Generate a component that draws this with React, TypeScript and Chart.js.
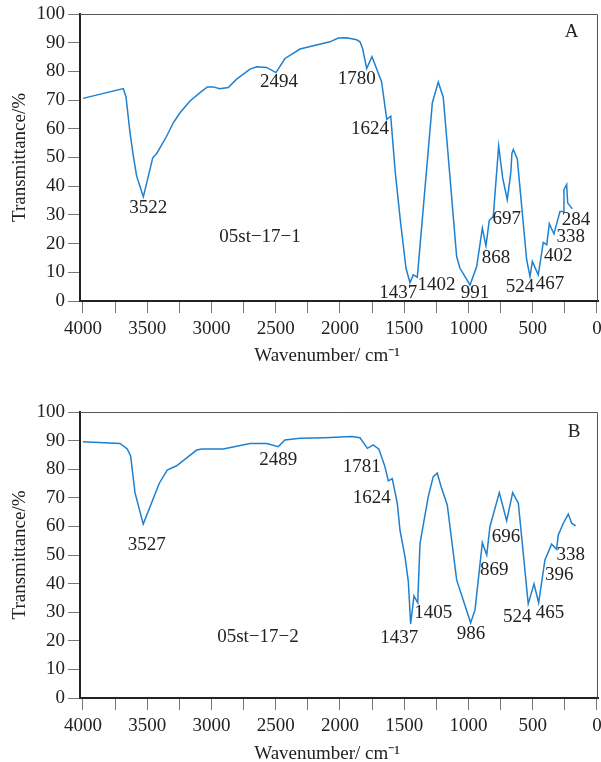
import React, { useEffect, useRef } from 'react';
import { Chart, registerables } from 'chart.js';

Chart.register(...registerables);

const FONT = "'Liberation Serif', 'Times New Roman', serif";
const LINE_COLOR = '#1f80cf';
const TEXT_COLOR = '#222222';

// ---- Spectrum A (05st-17-1) ----
const wavenumbersA = [
  4000, 3686, 3665, 3634, 3608, 3582, 3530, 3457, 3426, 3349, 3297, 3245, 3167, 3089, 3032, 2986,
  2936, 2869, 2804, 2700, 2648, 2570, 2498, 2428, 2311, 2078, 2013, 1948, 1870, 1844, 1823, 1792,
  1751, 1714, 1676, 1636, 1605, 1570, 1530, 1486, 1455, 1430, 1398, 1281, 1235, 1196, 1092, 1066,
  988, 936, 892, 864, 838, 807, 765, 734, 698, 670, 662, 651, 620, 547, 521, 503, 457, 418, 391,
  371, 335, 288, 262, 257, 236, 228, 192,
];
const transmittanceA = [
  70.6, 74.0, 71.1, 58.7, 50.5, 43.5, 36.3, 49.9, 51.4, 57.4, 62.1, 65.6, 69.7, 72.6, 74.6, 74.6,
  74.0, 74.4, 77.3, 80.8, 81.6, 81.4, 79.6, 84.5, 87.8, 90.3, 91.6, 91.7, 91.0, 90.3, 87.8, 81.0,
  85.1, 80.8, 76.3, 63.3, 64.4, 45.0, 28.0, 11.4, 6.4, 9.1, 8.3, 69.1, 76.3, 70.9, 15.5, 11.4,
  5.6, 12.0, 25.4, 19.2, 28.1, 29.5, 54.0, 42.9, 35.3, 45.0, 51.4, 52.8, 49.5, 14.3, 8.5, 13.8, 9.1,
  20.4, 19.6, 26.9, 23.4, 31.2, 31.2, 38.8, 40.6, 34.2, 32.1,
];
const labelTextA = ['2494', '1780', '1624', '3522', '1437', '1402', '991', '868', '697', '524', '467', '402', '338', '284', '05st\u221217\u22121', 'A'];
const labelXA = [2475, 1870, 1766, 3492, 1546, 1248, 949, 786, 703, 599, 366, 301, 205, 163, 2622, 197];
const labelYA = [76.2, 77.3, 59.8, 32.4, 2.9, 5.6, 2.9, 14.9, 28.6, 5.0, 5.9, 15.7, 22.3, 28.1, 22.3, 93.6];

// ---- Spectrum B (05st-17-2) ----
const wavenumbersB = [
  4000, 3712, 3655, 3629, 3595, 3531, 3406, 3344, 3271, 3115, 3076, 2908, 2700, 2570, 2480, 2428,
  2311, 2117, 1909, 1844, 1787, 1741, 1697, 1650, 1624, 1593, 1554, 1533, 1494, 1468, 1450, 1424,
  1395, 1377, 1313, 1274, 1243, 1209, 1165, 1092, 983, 949, 892, 858, 833, 760, 703, 656, 612, 535,
  490, 454, 405, 353, 314, 301, 262, 223, 197, 166,
];
const transmittanceB = [
  89.6, 89.0, 87.1, 84.6, 71.8, 60.8, 75.1, 79.7, 81.2, 86.7, 87.1, 87.1, 89.0, 89.0, 87.9, 90.2,
  90.8, 91.0, 91.4, 91.0, 87.3, 88.5, 87.0, 80.9, 75.9, 76.7, 68.1, 58.7, 49.4, 40.7, 25.9, 35.7,
  33.3, 54.1, 70.4, 77.4, 78.6, 73.3, 67.5, 41.3, 26.3, 30.8, 54.3, 50.0, 59.9, 71.8, 62.0, 71.8, 68.1, 32.9,
  39.9, 33.3, 48.3, 53.8, 52.0, 57.0, 61.1, 64.3, 61.1, 60.2,
];
const labelTextB = ['2489', '1781', '1624', '3527', '1437', '1405', '986', '869', '696', '524', '465', '396', '338', '05st\u221217\u22122', 'B'];
const labelXB = [2480, 1831, 1753, 3504, 1538, 1274, 980, 799, 708, 620, 366, 293, 205, 2638, 179];
const labelYB = [83.2, 80.9, 69.8, 53.5, 20.9, 29.6, 22.4, 44.8, 56.4, 28.4, 29.6, 43.0, 50.0, 21.4, 93.1];

// ---- Axes ----
const xTickValues = [0, 250, 500, 750, 1000, 1250, 1500, 1750, 2000, 2250, 2500, 2750, 3000, 3250, 3500, 3750, 4000];
const xLabeledTicks = [0, 500, 1000, 1500, 2000, 2500, 3000, 3500, 4000];
const yTickValues = [0, 10, 20, 30, 40, 50, 60, 70, 80, 90, 100];
const xTitle = 'Wavenumber/ cm\u207B\u00B9\u00a0\u00a0\u00a0\u00a0\u00a0';
const yTitle = 'Transmittance/%';

const W = 601;
const H = 381;

type Props = {
  xs: number[];
  ys: number[];
  texts: string[];
  lx: number[];
  ly: number[];
  areaTop: number;
  areaBottom: number;
  titlePadBottom: number;
};

function SpectrumChart({ xs, ys, texts, lx, ly, areaTop, areaBottom, titlePadBottom }: Props) {
  const ref = useRef<HTMLCanvasElement | null>(null);

  useEffect(() => {
    if (!ref.current) return;
    const labelPlugin = {
      id: 'peakLabels',
      afterDatasetsDraw(chart: any) {
        const { ctx, scales, chartArea } = chart;
        const xs_ = scales.x;
        const ys_ = scales.y;
        ctx.save();
        // top & right frame (thin)
        ctx.strokeStyle = '#555555';
        ctx.lineWidth = 1;
        ctx.beginPath();
        ctx.moveTo(chartArea.left, chartArea.top + 0.5);
        ctx.lineTo(chartArea.right - 0.5, chartArea.top + 0.5);
        ctx.lineTo(chartArea.right - 0.5, chartArea.bottom);
        ctx.stroke();
        ctx.font = `19px ${FONT}`;
        ctx.fillStyle = TEXT_COLOR;
        ctx.textAlign = 'center';
        ctx.textBaseline = 'middle';
        texts.forEach((t, i) => {
          ctx.fillText(t, xs_.getPixelForValue(lx[i]), ys_.getPixelForValue(ly[i]));
        });
        ctx.restore();
      },
    };

    const chart = new Chart(ref.current, {
      type: 'line',
      data: {
        datasets: [
          {
            data: xs.map((x, i) => ({ x, y: ys[i] })),
            borderColor: LINE_COLOR,
            borderWidth: 1.5,
            pointRadius: 0,
            tension: 0,
            fill: false,
          },
        ],
      },
      options: {
        responsive: false,
        animation: false,
        devicePixelRatio: 1,
        layout: { padding: { left: 0, right: 3, top: areaTop, bottom: 0 } },
        plugins: { legend: { display: false }, tooltip: { enabled: false }, title: { display: false } },
        scales: {
          x: {
            type: 'linear',
            position: 'bottom',
            reverse: true,
            min: -8,
            max: 4023,
            afterBuildTicks: (scale: any) => {
              scale.ticks = xTickValues.map((v) => ({ value: v }));
            },
            afterFit: (scale: any) => {
              scale.height = H - areaBottom;
              scale.paddingLeft = 0;
              scale.paddingRight = 0;
              scale.paddingTop = 0;
              scale.paddingBottom = 0;
            },
            ticks: {
              autoSkip: false,
              maxRotation: 0,
              padding: 5,
              color: TEXT_COLOR,
              font: { family: FONT, size: 19 },
              callback: (v: any) => (xLabeledTicks.includes(Number(v)) ? String(v) : ''),
            },
            grid: { display: true, drawOnChartArea: false, drawTicks: true, tickLength: 12, color: '#777777', lineWidth: 1 },
            border: { display: true, color: '#222222', width: 2 },
            title: {
              display: true,
              text: xTitle,
              color: TEXT_COLOR,
              font: { family: FONT, size: 19, lineHeight: 1 },
              padding: { top: 0, bottom: titlePadBottom },
            },
          },
          y: {
            type: 'linear',
            position: 'left',
            min: 0,
            max: 100,
            afterBuildTicks: (scale: any) => {
              scale.ticks = yTickValues.map((v) => ({ value: v }));
            },
            afterFit: (scale: any) => {
              scale.width = 80;
              scale.paddingLeft = 0;
              scale.paddingRight = 0;
              scale.paddingTop = 0;
              scale.paddingBottom = 0;
            },
            ticks: {
              autoSkip: false,
              padding: 3,
              color: TEXT_COLOR,
              font: { family: FONT, size: 19 },
            },
            grid: { display: true, drawOnChartArea: false, drawTicks: true, tickLength: 12, color: '#777777', lineWidth: 1 },
            border: { display: true, color: '#222222', width: 2 },
            title: {
              display: true,
              text: yTitle,
              color: TEXT_COLOR,
              font: { family: FONT, size: 19, lineHeight: 1 },
              padding: { top: 10.5, bottom: 0 },
            },
          },
        },
      },
      plugins: [labelPlugin],
    } as any);

    return () => chart.destroy();
  }, [xs, ys, texts, lx, ly, areaTop, areaBottom, titlePadBottom]);

  return <canvas ref={ref} width={W} height={H} style={{ display: 'block', width: W, height: H }} />;
}

export default function App() {
  return (
    <div style={{ position: 'absolute', left: 0, top: 0, width: W, height: 762, background: '#ffffff' }}>
      <SpectrumChart
        xs={wavenumbersA}
        ys={transmittanceA}
        texts={labelTextA}
        lx={labelXA}
        ly={labelYA}
        areaTop={14}
        areaBottom={301}
        titlePadBottom={15}
      />
      <SpectrumChart
        xs={wavenumbersB}
        ys={transmittanceB}
        texts={labelTextB}
        lx={labelXB}
        ly={labelYB}
        areaTop={31}
        areaBottom={317}
        titlePadBottom={-1.5}
      />
    </div>
  );
}
